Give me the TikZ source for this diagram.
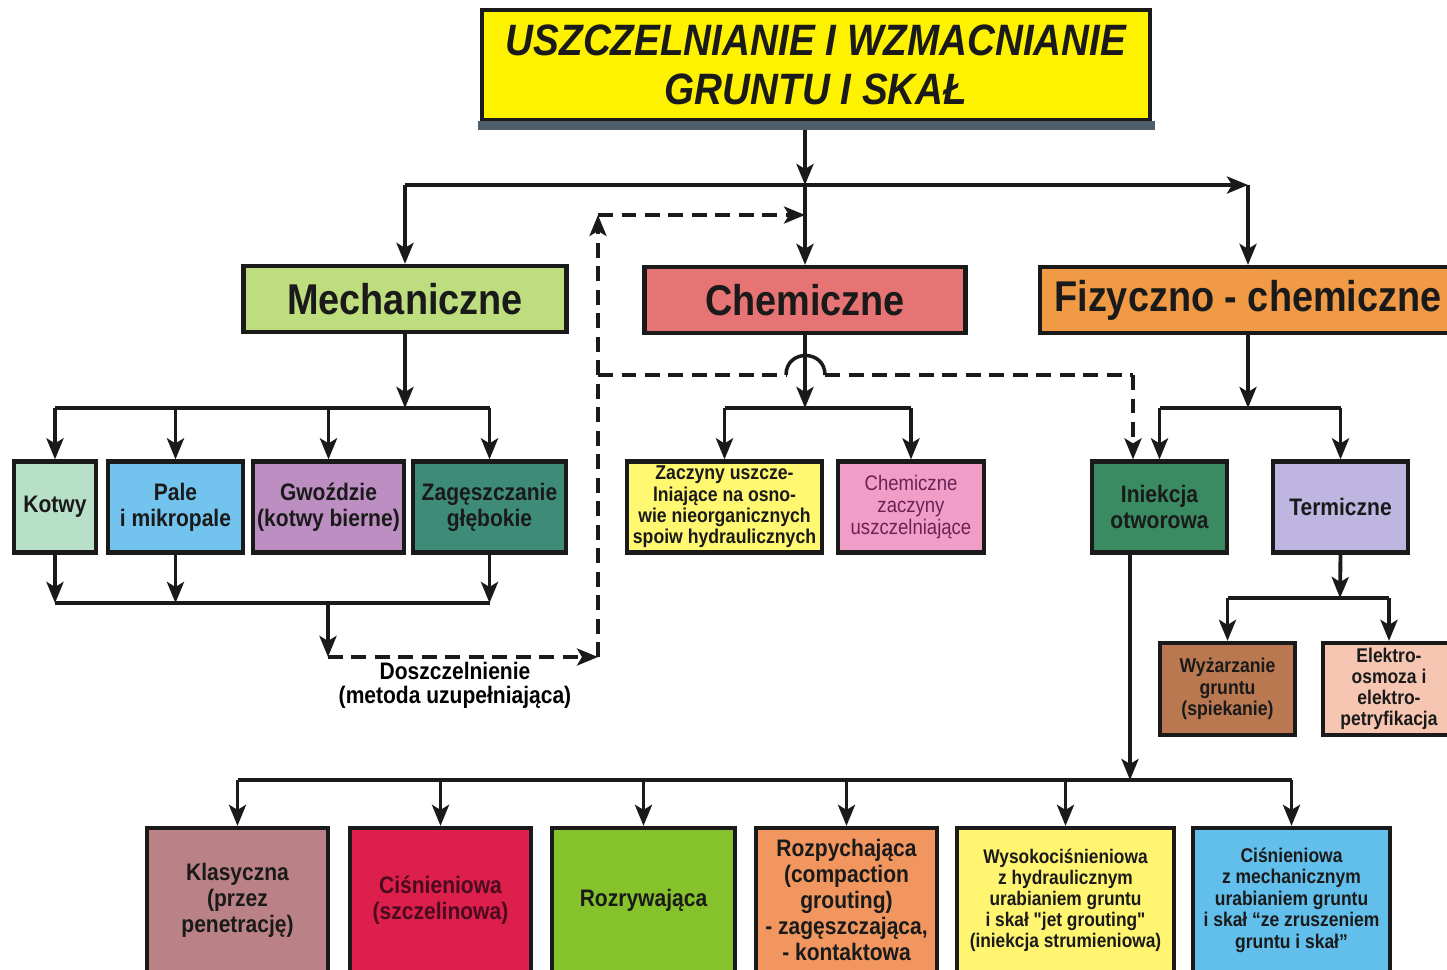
\documentclass[tikz,border=0pt]{standalone}
\usepackage{fontspec}
\setmainfont{Liberation Sans}[FakeStretch=0.88,Ligatures=TeXOff]
\usetikzlibrary{arrows.meta,positioning}
\definecolor{TitleYellow}{HTML}{FFF200}
\definecolor{BarGrey}{HTML}{4E5E6A}
\definecolor{MechGreen}{HTML}{BEDD7E}
\definecolor{ChemRed}{HTML}{E67475}
\definecolor{FizOrange}{HTML}{F09A45}
\definecolor{KotwyMint}{HTML}{B8E0C8}
\definecolor{PaleBlue}{HTML}{72C4EE}
\definecolor{GwozMauve}{HTML}{BC8EC2}
\definecolor{ZagTeal}{HTML}{3E8C78}
\definecolor{ZaczYellow}{HTML}{FFF870}
\definecolor{ChemPink}{HTML}{F09DC8}
\definecolor{PinkText}{HTML}{6B2355}
\definecolor{InieGreen}{HTML}{3A8B62}
\definecolor{TermLilac}{HTML}{BEB6E0}
\definecolor{WyzBrown}{HTML}{B97850}
\definecolor{ElekPeach}{HTML}{F7C6B2}
\definecolor{KlasRose}{HTML}{BA8286}
\definecolor{CisnCrimson}{HTML}{DC1F4B}
\definecolor{MaroonText}{HTML}{4A0A20}
\definecolor{RozrGreen}{HTML}{86C22B}
\definecolor{RozpOrange}{HTML}{F0965E}
\definecolor{WysYellow}{HTML}{FFF570}
\definecolor{CmechBlue}{HTML}{62BEEA}
\definecolor{InkBlack}{HTML}{1A1A1A}
\newcommand{\fonttitle}{\fontsize{25}{27.8}\selectfont\bfseries\itshape}
\newcommand{\fontmain}{\fontsize{24.5}{26}\selectfont\bfseries}
\newcommand{\fontsub}{\fontsize{13.6}{14.8}\selectfont\bfseries}
\newcommand{\fontsmall}{\fontsize{11.4}{12.2}\selectfont\bfseries}

\begin{document}
\begin{tikzpicture}[x=0.02cm,y=-0.02cm,>={Stealth[length=4.2mm,width=3.4mm,inset=1mm]},
  box/.style={draw=InkBlack,line width=2.4pt,inner sep=0pt,align=center,text=InkBlack},
  sz/.style 2 args={minimum width=#1*0.02cm,minimum height=#2*0.02cm},
  link/.style={line width=2.2pt,draw=InkBlack},
  dashlink/.style={line width=2pt,draw=InkBlack,dash pattern=on 3mm off 1.7mm}]
\useasboundingbox (0,0) rectangle (1447,970);

% title
\node[box,fill=TitleYellow,sz={668}{110},font=\fonttitle] (title) at (816,65) {USZCZELNIANIE I WZMACNIANIE\\GRUNTU I SKAŁ};
\node[fill=BarGrey,sz={677}{9},inner sep=0pt,anchor=north] (tbar) at ([yshift=1pt]title.south) {};

% main groups
\node[box,fill=MechGreen,sz={323}{66},font=\fontmain] (mech) at (405,299) {Mechaniczne};
\node[box,fill=ChemRed,sz={321}{66},font=\fontmain] (chem) at (805,300) {Chemiczne};
\node[box,fill=FizOrange,sz={416}{66},font=\fontmain] (fiz) at (1248,300) {Fizyczno - chemiczne};

% second row
\node[box,fill=KotwyMint,sz={82}{91},font=\fontsub] (kotwy) at (55,507) {Kotwy};
\node[box,fill=PaleBlue,sz={135}{91},font=\fontsub] (pale) at (175.5,507) {Pale\\i mikropale};
\node[box,fill=GwozMauve,sz={151}{91},font=\fontsub] (gwoz) at (328.5,507) {Gwoździe\\(kotwy bierne)};
\node[box,fill=ZagTeal,sz={153}{91},font=\fontsub] (zag) at (489.5,507) {Zagęszczanie\\głębokie};
\node[box,fill=ZaczYellow,sz={195}{91},font=\fontsmall] (zacz) at (724.5,507) {Zaczyny uszcze-\\lniające na osno-\\wie nieorganicznych\\spoiw hydraulicznych};
\node[box,fill=ChemPink,sz={146}{91},text=PinkText,font=\fontsize{12}{12.5}\selectfont] (czacz) at (911,507) {Chemiczne\\zaczyny\\uszczelniające};
\node[box,fill=InieGreen,sz={135}{91},font=\fontsub] (inie) at (1159.5,507) {Iniekcja\\otworowa};
\node[box,fill=TermLilac,sz={135}{91},font=\fontsub] (term) at (1340.5,507) {Termiczne};
\node[box,fill=WyzBrown,sz={135}{92},font=\fontsmall] (wyz) at (1227.5,689) {Wyżarzanie\\gruntu\\(spiekanie)};
\node[box,fill=ElekPeach,sz={132}{92},font=\fontsize{11.3}{11.9}\selectfont\bfseries] (elek) at (1389,689) {Elektro-\\osmoza i\\elektro-\\petryfikacja};

% injection methods
\node[box,fill=KlasRose,sz={181}{144},font=\fontsub] (klas) at (237.5,900) {Klasyczna\\(przez\\penetrację)};
\node[box,fill=CisnCrimson,sz={181}{144},text=MaroonText,font=\fontsub] (cisn) at (440.5,900) {Ciśnieniowa\\(szczelinowa)};
\node[box,fill=RozrGreen,sz={183}{144},font=\fontsub] (rozr) at (643.5,900) {Rozrywająca};
\node[box,fill=RozpOrange,sz={181}{144},font=\fontsize{13.6}{14.7}\selectfont\bfseries] (rozp) at (846.5,900) {Rozpychająca\\(compaction\\grouting)\\- zagęszczająca,\\- kontaktowa};
\node[box,fill=WysYellow,sz={217}{144},font=\fontsize{11.2}{12}\selectfont\bfseries] (wys) at (1065.5,900) {Wysokociśnieniowa\\z hydraulicznym\\urabianiem gruntu\\i skał "jet grouting"\\(iniekcja strumieniowa)};
\node[box,fill=CmechBlue,sz={197}{144},font=\fontsize{11.3}{12.2}\selectfont\bfseries] (cmech) at (1291.5,900) {Ciśnieniowa\\z mechanicznym\\urabianiem gruntu\\i skał “ze zruszeniem\\gruntu i skał”};

\node[font=\fontsize{13.6}{13.8}\selectfont\bfseries,align=center,text=black] (dosz) at (455,685) {Doszczelnienie\\(metoda uzupełniająca)};

% junction points
\coordinate (top) at (805,185);
\coordinate (topL) at (405,185);
\coordinate (topR) at (1248,185);
\coordinate (mbus) at (405,408);
\coordinate (mlow) at (328,603);
\coordinate (dCorner) at (328,657);
\coordinate (dBot) at (598,657);
\coordinate (dTop) at (598,215);
\coordinate (dIn) at (805,215);
\coordinate (dMid) at (598,375);
\coordinate (hopL) at (786,375);
\coordinate (hopR) at (825,375);
\coordinate (dRight) at (1133,375);
\coordinate (cbus) at (805,408);
\coordinate (fbus) at (1248,408);
\coordinate (tbus) at (1340,598);
\coordinate (ibus) at (1130,780);

% top level
\draw[link,->] (tbar.south -| top) -- (top);
\draw[link,->] (topL) -- (topR);
\draw[link,->] (topL) -- (mech.north -| topL);
\draw[link,->] (top) -- (chem.north);
\draw[link,->] (topR) -- (fiz.north -| topR);

% mechanical
\draw[link,->] (mech.south) -- (mbus);
\draw[link] (kotwy.north |- mbus) -- (zag.north |- mbus);
\foreach \n in {kotwy,pale,gwoz,zag}
  \draw[link,->] (\n.north |- mbus) -- (\n.north);
\foreach \n in {kotwy,pale,zag}
  \draw[link,->] (\n.south) -- (\n.south |- mlow);
\draw[link] (kotwy.south |- mlow) -- (zag.south |- mlow);
\draw[link,->] (mlow) -- (dCorner);

% sealing loop
\draw[dashlink,->] (dCorner) -- (dBot);
\draw[dashlink,->] (dBot) -- (dTop);
\draw[dashlink,->] (dTop) -- (dIn);
\draw[dashlink] (dMid) -- (hopL);
\draw[line width=2pt,draw=InkBlack] (hopL) .. controls (786,349) and (825,349) .. (hopR);
\draw[dashlink] (hopR) -- (dRight);
\draw[dashlink,->] (dRight) -- (inie.north -| dRight);

% chemical
\draw[link,->] (chem.south) -- (cbus);
\draw[link] (zacz.north |- cbus) -- (czacz.north |- cbus);
\foreach \n in {zacz,czacz}
  \draw[link,->] (\n.north |- cbus) -- (\n.north);

% physico-chemical
\draw[link,->] (fiz.south) -- (fbus);
\draw[link] (inie.north |- fbus) -- (term.north |- fbus);
\foreach \n in {inie,term}
  \draw[link,->] (\n.north |- fbus) -- (\n.north);
\draw[link,->] (term.south) -- (tbus);
\draw[link] (wyz.north |- tbus) -- (elek.north |- tbus);
\foreach \n in {wyz,elek}
  \draw[link,->] (\n.north |- tbus) -- (\n.north);

% injection
\draw[link,->] (inie.south -| ibus) -- (ibus);
\draw[link] (klas.north |- ibus) -- (cmech.north |- ibus);
\foreach \n in {klas,cisn,rozr,rozp,wys,cmech}
  \draw[link,->] (\n.north |- ibus) -- (\n.north);
\end{tikzpicture}
\end{document}
